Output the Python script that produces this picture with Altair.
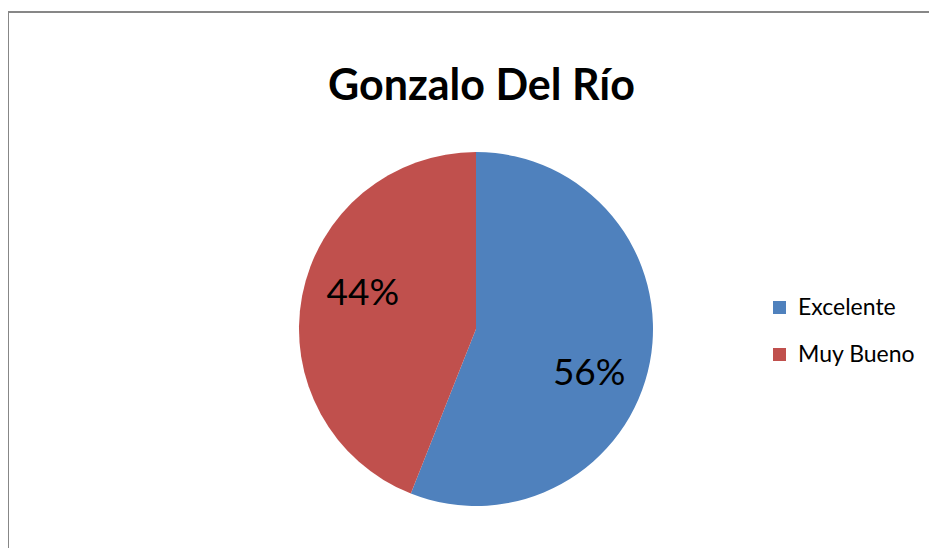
import altair as alt
import pandas as pd

categories = ["Excelente", "Muy Bueno"]
values = [56, 44]
labels = ["56%", "44%"]
colors = ["#4F81BD", "#C0504D"]
title_text = "Gonzalo Del Río"

df = pd.DataFrame({"cat": categories, "val": values, "lab": labels, "ord": [0, 1]})

W, H = 921, 536
cx, cy, R = 468, 317, 177

base = alt.Chart(df).encode(
    theta=alt.Theta("val:Q", stack=True),
    order=alt.Order("ord:Q"),
)

pie = base.mark_arc(radius=R, stroke=None).encode(
    x=alt.value(cx),
    y=alt.value(cy),
    color=alt.Color(
        "cat:N",
        scale=alt.Scale(domain=categories, range=colors),
        sort=categories,
        legend=alt.Legend(
            title=None,
            orient="none",
            legendX=760,
            legendY=284,
            symbolType="square",
            symbolSize=169,
            symbolStrokeWidth=0,
            labelFont="Lato",
            labelFontSize=23,
            labelColor="#000000",
            rowPadding=23,
            labelOffset=7,
            padding=0,
        ),
    ),
)

text = base.mark_text(
    radius=120, font="Lato", fontSize=37, color="#000000", thetaOffset=0.15, dy=5
).encode(
    x=alt.value(cx),
    y=alt.value(cy),
    text="lab:N",
)

frame_df = pd.DataFrame({"k": [0]})
left_edge = alt.Chart(frame_df).mark_rule(color="#878787", strokeWidth=2).encode(
    x=alt.value(0), y=alt.value(-1), y2=alt.value(H + 10)
)
top_edge = alt.Chart(frame_df).mark_rule(color="#878787", strokeWidth=2).encode(
    x=alt.value(-1), x2=alt.value(W + 10), y=alt.value(0)
)

chart = (
    alt.layer(pie, text, left_edge, top_edge)
    .properties(
        width=W,
        height=H,
        autosize=alt.AutoSizeParams(type="none"),
        padding={"left": 0, "top": 4, "right": 0, "bottom": 0},
        title=alt.Title(
            title_text,
            font="Lato",
            fontSize=43,
            fontWeight="bold",
            color="#000000",
            anchor="middle",
            dx=13,
            dy=103,
        ),
    )
    .configure_view(stroke=None)
)

chart.save("out.html", embed_options={"renderer": "svg", "actions": False})
